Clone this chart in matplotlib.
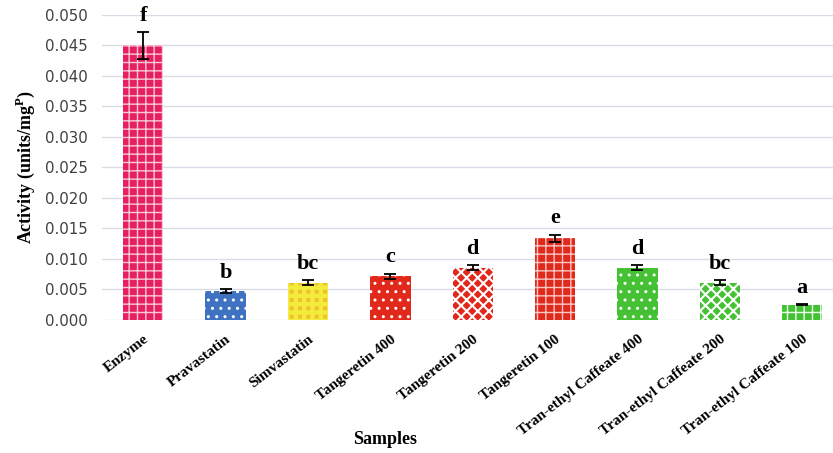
import matplotlib.pyplot as plt
import numpy as np

samples = ['Enzyme', 'Pravastatin', 'Simvastatin', 'Tangeretin 400', 'Tangeretin 200',
           'Tangeretin 100', 'Tran-ethyl Caffeate 400', 'Tran-ethyl Caffeate 200',
           'Tran-ethyl Caffeate 100']
activity = [0.0450, 0.0048, 0.0061, 0.0072, 0.0086, 0.0134, 0.0086, 0.0061, 0.0025]
err = [0.0022, 0.0003, 0.0004, 0.0004, 0.0004, 0.0006, 0.0004, 0.0004, 0.0001]
groups = ['f', 'b', 'bc', 'c', 'd', 'e', 'd', 'bc', 'a']

colors = ['#E81F5E', '#4072C2', '#EFC230', '#E2271B', '#E2271B', '#E2271B',
          '#45C233', '#45C233', '#45C233']
hatch_colors = ['#F6C9D6', '#FFFFFF', '#F4EC3A', '#FFFFFF', '#FFFFFF', '#F5C8C4',
                '#FFFFFF', '#FFFFFF', '#F0FFF0']
hatches = ['++', '..', '++', '..', 'xxx', '++', '..', 'xxx', '++']
hatch_lw = [1.0, 1.0, 3.0, 1.0, 1.5, 1.0, 1.0, 1.5, 1.0]

plt.rcParams['mathtext.fontset'] = 'custom'
plt.rcParams['mathtext.rm'] = 'Liberation Serif'
plt.rcParams['mathtext.bf'] = 'Liberation Serif:bold'

fig = plt.figure(figsize=(8.33, 4.53), dpi=100)
ax = fig.add_axes([0.1225, 0.2936, 0.89, 0.6733])

x = np.arange(len(samples))
for i in range(len(samples)):
    with plt.rc_context({'hatch.linewidth': hatch_lw[i]}):
        ax.bar(x[i], activity[i], width=0.49, color=colors[i], edgecolor=hatch_colors[i],
               hatch=hatches[i], linewidth=0, zorder=2)
ax.errorbar(x, activity, yerr=err, fmt='none', ecolor='black', elinewidth=1.3,
            capsize=4, capthick=1.3, zorder=3)

for i in range(len(samples)):
    ax.annotate(groups[i], (x[i], activity[i] + err[i]), xytext=(0, 4.5),
                textcoords='offset points', ha='center', va='bottom',
                fontsize=16, fontweight='bold', family='Liberation Serif',
                annotation_clip=False)

ax.set_ylim(0, 0.050)
ax.set_xlim(-0.5, 8.5)
yt = np.arange(0, 0.0501, 0.005)
ax.set_yticks(yt)
ax.set_yticklabels(['%.3f' % v for v in yt], family='DejaVu Sans', fontsize=10.8,
                   color='#404040')
ax.yaxis.grid(True, color='#D9DCE6', linewidth=1.0, zorder=0)
ax.set_axisbelow(True)
ax.tick_params(axis='y', length=0, pad=10)
ax.tick_params(axis='x', length=0, pad=9)
for s in ax.spines.values():
    s.set_visible(False)

ax.set_xticks(x)
ax.set_xticklabels(samples, rotation=38, ha='right', va='top', rotation_mode='anchor',
                   family='Liberation Serif', fontweight='bold', fontsize=11)

# axis titles placed in figure coordinates
fig.text(385 / 833, 1 - 440 / 453, 'Samples', ha='center', va='center',
         family='Liberation Serif', fontweight='bold', fontsize=13)
fig.text(25 / 833, 1 - 167 / 453, 'Activity (units/mg$^{\\mathbf{P}}$)', rotation=90,
         ha='center', va='center', family='Liberation Serif', fontweight='bold',
         fontsize=13)

fig.savefig('out.png', dpi=100)
